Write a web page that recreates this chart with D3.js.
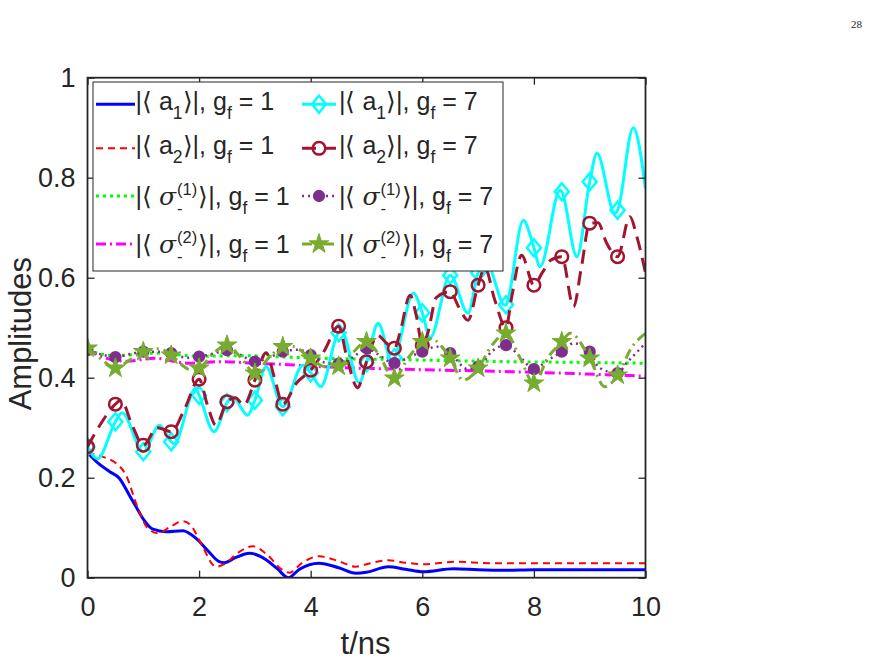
<!DOCTYPE html>
<html>
<head>
<meta charset="utf-8">
<script src="https://cdn.jsdelivr.net/npm/d3@7/dist/d3.min.js"></script>
<style>
  body { margin: 0; background: #fff; }
  text { font-family: "Liberation Sans", Arial, Helvetica, sans-serif; fill: #262626; white-space: pre; }
</style>
</head>
<body>
<svg id="chart" width="874" height="662"></svg>
<script>
// Amplitudes vs time, two coupling strengths (g_f = 1 and g_f = 7).
// Each series is a list of [t (ns), amplitude].

const xTicks = [0, 2, 4, 6, 8, 10];
const yTicks = [0, 0.2, 0.4, 0.6, 0.8, 1];

const a1_g1 = [[0,0.25],[0.2,0.228],[0.4,0.212],[0.57,0.199],[0.75,0.165],[0.87,0.142],[1.0,0.117],
  [1.17,0.097],[1.41,0.092],[1.71,0.094],[1.94,0.079],[2.15,0.055],[2.36,0.032],[2.45,0.03],[2.65,0.04],
  [2.9,0.049],[3.2,0.036],[3.4,0.018],[3.6,0.0],[3.8,0.017],[4.15,0.029],[4.5,0.02],[4.81,0.009],
  [5.0,0.011],[5.39,0.022],[5.7,0.017],[6.02,0.012],[6.56,0.018],[7.0,0.016],[7.5,0.015],[8,0.016],
  [9,0.016],[10,0.016]];

const a2_g1 = [[0,0.25],[0.34,0.239],[0.5,0.23],[0.69,0.205],[0.9,0.14],[1.08,0.099],[1.26,0.089],
  [1.5,0.103],[1.71,0.113],[1.85,0.105],[2.05,0.065],[2.3,0.022],[2.45,0.027],[2.7,0.05],[2.96,0.063],
  [3.2,0.048],[3.5,0.015],[3.62,0.01],[3.85,0.03],[4.15,0.043],[4.5,0.033],[4.81,0.022],[5.0,0.027],
  [5.39,0.035],[5.7,0.03],[6.02,0.027],[6.6,0.032],[7.2,0.029],[8,0.029],[9,0.029],[10,0.029]];

const s1_g1 = [[0,0.455],[0.5,0.444],[1.2,0.449],[2.0,0.443],[2.8,0.444],[3.6,0.441],[4.5,0.438],
  [5.2,0.437],[6.5,0.434],[7.6,0.432],[8.5,0.431],[10,0.429]];

const s2_g1 = [[0,0.455],[0.4,0.437],[0.7,0.433],[1.2,0.439],[1.8,0.429],[2.4,0.432],[3.0,0.429],
  [3.6,0.426],[4.2,0.422],[4.9,0.419],[6,0.416],[7.6,0.412],[8.8,0.408],[10,0.403]];

const a1_g7 = [[0,0.262],[0.18,0.238],[0.5,0.312],[0.62,0.33],[1.0,0.252],[1.29,0.305],[1.5,0.272],
  [1.55,0.268],[1.94,0.379],[2.0,0.365],[2.27,0.292],[2.5,0.35],[2.6,0.362],[2.87,0.325],[3.0,0.355],
  [3.2,0.422],[3.5,0.342],[3.86,0.425],[4.0,0.41],[4.18,0.382],[4.5,0.49],[4.55,0.493],[4.87,0.39],
  [5.0,0.43],[5.21,0.509],[5.45,0.435],[5.5,0.44],[5.84,0.569],[6.0,0.53],[6.14,0.48],[6.5,0.605],
  [6.82,0.529],[7.0,0.61],[7.15,0.629],[7.48,0.545],[7.5,0.546],[7.81,0.715],[8.0,0.66],[8.11,0.622],
  [8.47,0.775],[8.5,0.772],[8.77,0.642],[9.0,0.792],[9.13,0.849],[9.45,0.729],[9.5,0.735],[9.78,0.9],
  [10,0.779]];

const a2_g7 = [[0,0.262],[0.25,0.31],[0.5,0.347],[0.6,0.355],[0.8,0.305],[1.0,0.265],[1.25,0.3],
  [1.5,0.292],[1.75,0.34],[2.0,0.397],[2.15,0.345],[2.3,0.305],[2.5,0.352],[2.65,0.36],[2.8,0.345],
  [3.0,0.395],[3.2,0.45],[3.35,0.4],[3.5,0.347],[3.75,0.39],[4.0,0.415],[4.25,0.455],[4.5,0.503],
  [4.65,0.44],[4.84,0.38],[5.0,0.432],[5.2,0.485],[5.35,0.47],[5.5,0.459],[5.6,0.49],[5.78,0.565],
  [5.9,0.52],[6.0,0.465],[6.1,0.49],[6.25,0.56],[6.5,0.572],[6.65,0.542],[6.82,0.515],[7.0,0.585],
  [7.12,0.62],[7.3,0.555],[7.5,0.5],[7.6,0.56],[7.78,0.645],[8.0,0.585],[8.15,0.61],[8.3,0.635],
  [8.5,0.642],[8.71,0.542],[8.85,0.62],[9.0,0.709],[9.15,0.71],[9.3,0.67],[9.5,0.642],[9.72,0.722],
  [9.85,0.68],[10,0.61]];

const s1_g7 = [[0,0.455],[0.3,0.445],[0.5,0.441],[0.75,0.447],[1.0,0.452],[1.25,0.452],[1.5,0.449],
  [1.77,0.44],[2.0,0.442],[2.25,0.448],[2.5,0.455],[2.75,0.445],[3.0,0.432],[3.25,0.44],[3.5,0.452],
  [3.8,0.456],[4.0,0.445],[4.3,0.429],[4.5,0.428],[4.75,0.44],[5.0,0.459],[5.2,0.447],[5.5,0.429],
  [5.78,0.442],[6.0,0.452],[6.26,0.462],[6.5,0.449],[6.8,0.418],[7.0,0.422],[7.27,0.455],[7.5,0.465],
  [7.75,0.442],[8.0,0.417],[8.25,0.435],[8.5,0.452],[8.71,0.469],[9.0,0.452],[9.17,0.42],[9.5,0.409],
  [9.66,0.429],[10,0.469]];

const s2_g7 = [[0,0.459],[0.25,0.437],[0.5,0.419],[0.75,0.435],[1.0,0.452],[1.3,0.458],[1.5,0.445],
  [1.85,0.416],[2.0,0.419],[2.25,0.448],[2.5,0.465],[2.75,0.44],[3.0,0.409],[3.25,0.44],[3.5,0.462],
  [3.65,0.463],[4.0,0.439],[4.25,0.422],[4.5,0.423],[4.75,0.45],[5.0,0.472],[5.2,0.45],[5.5,0.399],
  [5.75,0.44],[6.0,0.472],[6.15,0.478],[6.5,0.439],[6.73,0.395],[7.0,0.419],[7.25,0.465],[7.5,0.489],
  [7.75,0.44],[8.0,0.389],[8.25,0.44],[8.5,0.472],[8.65,0.489],[9.0,0.439],[9.27,0.382],[9.5,0.405],
  [9.75,0.46],[10,0.489]];

// legend labels: pieces are [text, kind] with kind '' | 'sub' | 'it' | 'stack' (sup/sub pair)
const labelA1 = [['|\u27E8 a',''],['1','sub'],['\u27E9|, g',''],['f','sub']];
const labelA2 = [['|\u27E8 a',''],['2','sub'],['\u27E9|, g',''],['f','sub']];
const labelS1 = [['|\u27E8 ',''],['\u03C3','it'],[['(1)','-'],'stack'],['\u27E9|, g',''],['f','sub']];
const labelS2 = [['|\u27E8 ',''],['\u03C3','it'],[['(2)','-'],'stack'],['\u27E9|, g',''],['f','sub']];

const series = [
  { data: a1_g1, label: labelA1, g: 1, color: '#0000FF', width: 3,   dash: null },
  { data: a2_g1, label: labelA2, g: 1, color: '#FF0000', width: 2,   dash: '7,5' },
  { data: s1_g1, label: labelS1, g: 1, color: '#00FF00', width: 3,   dash: '3,4' },
  { data: s2_g1, label: labelS2, g: 1, color: '#FF00FF', width: 3,   dash: '10,4,2,4' },
  { data: a1_g7, label: labelA1, g: 7, color: '#00FFFF', width: 3,   dash: null,        marker: 'diamond' },
  { data: a2_g7, label: labelA2, g: 7, color: '#A2142F', width: 3,   dash: '14,8',      marker: 'circle' },
  { data: s1_g7, label: labelS1, g: 7, color: '#7E2F8E', width: 2.5, dash: '2,4',       marker: 'dot' },
  { data: s2_g7, label: labelS2, g: 7, color: '#77AC30', width: 3,   dash: '10,5,2,5', marker: 'star' },
];

const W = 874, H = 662;
const margin = { left: 87.5, right: W - 645.5, top: 77.7, bottom: H - 577.7 };
const pw = W - margin.left - margin.right;
const ph = H - margin.top - margin.bottom;

const svg = d3.select('#chart');
const x = d3.scaleLinear().domain([0, 10]).range([margin.left, margin.left + pw]);
const y = d3.scaleLinear().domain([0, 1]).range([margin.top + ph, margin.top]);

// page number in the corner
svg.append('text').attr('x', 862).attr('y', 28).attr('text-anchor', 'end')
  .style('font-family', '"Liberation Serif", "Times New Roman", serif')
  .style('font-size', '11px').text('28');

const plot = svg.append('g');
plot.append('clipPath').attr('id', 'clip').append('rect')
  .attr('x', margin.left).attr('y', margin.top - 10).attr('width', pw).attr('height', ph + 10);

const line = d3.line().x(d => x(d[0])).y(d => y(d[1])).curve(d3.curveMonotoneX);

function markerPath(kind) {
  if (kind === 'diamond') return 'M0,-8.5L7,0L0,8.5L-7,0Z';
  if (kind === 'star') return d3.symbol(d3.symbolStar, 120)();
  if (kind === 'dot') return d3.symbol(d3.symbolCircle, 75)();
  return d3.symbol(d3.symbolCircle, 125)();
}

function styleMarker(sel, s) {
  const filled = s.marker === 'dot' || s.marker === 'star';
  sel.attr('d', markerPath(s.marker))
    .attr('fill', filled ? s.color : 'none')
    .attr('stroke', s.color)
    .attr('stroke-width', s.marker === 'star' ? 1 : 2.5);
}

const isHalf = t => Math.abs(t * 2 - Math.round(t * 2)) < 1e-6 && t < 10;

series.forEach(s => {
  const g = plot.append('g').attr('clip-path', 'url(#clip)');
  g.append('path').datum(s.data)
    .attr('d', line)
    .attr('fill', 'none')
    .attr('stroke', s.color)
    .attr('stroke-width', s.width)
    .attr('stroke-dasharray', s.dash)
    .attr('stroke-linejoin', 'round');
  if (s.marker) {
    g.selectAll('path.mk').data(s.data.filter(d => isHalf(d[0])))
      .enter().append('path').attr('class', 'mk')
      .attr('transform', d => `translate(${x(d[0])},${y(d[1])})`)
      .call(styleMarker, s);
  }
});

// axes: box with inward ticks on all four sides
const axisColor = '#262626';
const ax = svg.append('g');
function styleAxis(g) {
  g.select('.domain').remove();
  g.selectAll('.tick line').attr('stroke', axisColor).attr('stroke-width', 1.3);
  g.selectAll('.tick text').attr('fill', axisColor)
    .style('font-family', '"Liberation Sans", Arial, sans-serif').style('font-size', '27px');
}
ax.append('g').attr('transform', `translate(0,${margin.top + ph})`)
  .call(d3.axisBottom(x).tickValues(xTicks).tickSizeInner(-7).tickSizeOuter(0).tickPadding(19)
    .tickFormat(d3.format('d')))
  .call(styleAxis);
ax.append('g').attr('transform', `translate(0,${margin.top})`)
  .call(d3.axisTop(x).tickValues(xTicks).tickSizeInner(-7).tickSizeOuter(0).tickFormat(''))
  .call(styleAxis);
ax.append('g').attr('transform', `translate(${margin.left},0)`)
  .call(d3.axisLeft(y).tickValues(yTicks).tickSizeInner(-7).tickSizeOuter(0).tickPadding(12)
    .tickFormat(d => d === 0 || d === 1 ? String(d) : d.toFixed(1)))
  .call(styleAxis);
ax.append('g').attr('transform', `translate(${margin.left + pw},0)`)
  .call(d3.axisRight(y).tickValues(yTicks).tickSizeInner(-7).tickSizeOuter(0).tickFormat(''))
  .call(styleAxis);
ax.append('rect')
  .attr('x', margin.left).attr('y', margin.top).attr('width', pw).attr('height', ph)
  .attr('fill', 'none').attr('stroke', axisColor).attr('stroke-width', 1.8);

svg.append('text')
  .attr('x', margin.left + pw / 2 - 1).attr('y', 654).attr('text-anchor', 'middle')
  .style('font-size', '31px').text('t/ns');
svg.append('text')
  .attr('transform', `translate(31,${margin.top + ph / 2 + 6}) rotate(-90)`)
  .attr('text-anchor', 'middle')
  .style('font-size', '31px').text('Amplitudes');

// legend
const leg = svg.append('g');
leg.append('rect').attr('x', 93).attr('y', 82).attr('width', 410).attr('height', 189)
  .attr('fill', '#fff').attr('stroke', '#262626').attr('stroke-width', 1);

const rowY = [104.3, 148.3, 196, 244];
const colX = [{ x0: 96, x1: 135, tx: 135.5 }, { x0: 302, x1: 336, tx: 339 }];
const fs = 25, fsSmall = 17.5;

function drawLabel(g, pieces, tail, x0, base) {
  let cx = x0;
  const addText = (str, dx, dy, size, italic) => {
    const t = g.append('text').attr('x', dx).attr('y', base + dy)
      .style('font-size', size + 'px').text(str);
    if (italic) t.style('font-style', 'italic').style('font-family', '"DejaVu Serif", "Liberation Serif", serif');
    return t.node().getComputedTextLength();
  };
  pieces.concat([[tail, '']]).forEach(([str, kind]) => {
    if (kind === 'sub') cx += addText(str, cx, 9.5, fsSmall);
    else if (kind === 'it') cx += addText(str, cx, 0, fs, true);
    else if (kind === 'stack') {
      const w1 = addText(str[0], cx + 1, -9.5, fsSmall - 1);
      const w2 = addText(str[1], cx + 1, 9.5, fsSmall - 1);
      cx += Math.max(w1, w2) + 2;
    } else cx += addText(str, cx, 0, fs);
  });
}

series.forEach((s, i) => {
  const col = colX[s.g === 1 ? 0 : 1];
  const yc = rowY[i % 4];
  const isSigma = i % 4 >= 2;
  const g = leg.append('g');
  g.append('line').attr('x1', col.x0).attr('x2', col.x1).attr('y1', yc).attr('y2', yc)
    .attr('stroke', s.color).attr('stroke-width', s.width).attr('stroke-dasharray', s.dash);
  if (s.marker) {
    g.append('path').attr('transform', `translate(${(col.x0 + col.x1) / 2},${yc})`).call(styleMarker, s);
  }
  drawLabel(g, s.label, ` = ${s.g}`, col.tx, yc + (isSigma ? 8.5 : 5.5));
});
</script>
</body>
</html>
